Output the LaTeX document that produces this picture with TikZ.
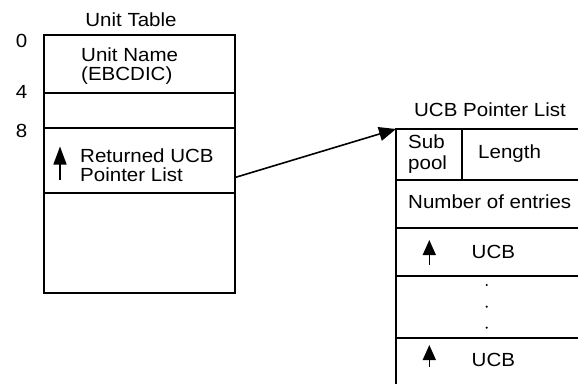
\documentclass[tikz,border=0pt]{standalone}
\usepackage{fontspec}
\setmainfont{Liberation Sans}[FakeStretch=1.08]
\usetikzlibrary{arrows.meta,calc}

\begin{document}
\begin{tikzpicture}[x=1pt, y=-1pt,
    font=\fontsize{19}{19}\selectfont,
    field/.style={draw, line width=1.2pt, rectangle, inner sep=0pt,
      outer sep=0pt, anchor=north west},
    txt/.style={inner sep=0pt, anchor=base west},
    title/.style={inner sep=0pt, anchor=base},
    ptr/.style={line width=1.4pt, -{Triangle[length=15pt,width=13pt]}},
    link/.style={line width=1.6pt, -{Triangle[length=17pt,width=14pt]}}]
  \clip (0,0) rectangle (578,383);
  % unit table
  \node[title] (uttitle) at (131,26) {Unit Table};
  \node[field, minimum width=191pt, minimum height=58pt] (uname) at (44,35) {};
  \node[field, minimum width=191pt, minimum height=35pt] (resv) at (44,93) {};
  \node[field, minimum width=191pt, minimum height=65pt] (retptr) at (44,128) {};
  \node[field, minimum width=191pt, minimum height=100pt] (spare) at (44,193) {};
  \node[title] (off0) at (21.5,47) {0};
  \node[title] (off4) at (21.5,98) {4};
  \node[title] (off8) at (21.5,137) {8};
  \node[txt] (unameA) at (81,61) {Unit Name};
  \node[txt] (unameB) at (81,80) {(EBCDIC)};
  \node[txt] (retptrA) at (80,162) {Returned UCB};
  \node[txt] (retptrB) at (80,181) {Pointer List};
  \draw[ptr, -{Triangle[length=18pt,width=13pt]}] (60,180) -- (60,146.5);

  % ucb pointer list
  \node[title] (pltitle) at (490,116.7) {UCB Pointer List};
  \node[field, minimum width=66pt, minimum height=51pt] (subpool) at (396,129) {};
  \node[field, minimum width=190pt, minimum height=51pt] (length) at (462,129) {};
  \node[field, minimum width=256pt, minimum height=48pt] (nument) at (396,180) {};
  \node[field, minimum width=256pt, minimum height=48pt] (ucbfirst) at (396,228) {};
  \node[field, minimum width=256pt, minimum height=62pt] (gap) at (396,276) {};
  \node[field, minimum width=256pt, minimum height=80pt] (ucblast) at (396,338) {};
  \node[txt] (subA) at (408,148.3) {Sub};
  \node[txt] (subB) at (408,169.5) {pool};
  \node[txt] (lentxt) at (478,158.3) {Length};
  \node[txt] (numtxt) at (408,208.3) {Number of entries};
  \node[txt] (ucbtxta) at (471.5,258.3) {UCB};
  \node[txt] (ucbtxtb) at (471.5,366.7) {UCB};
  \draw[ptr] (429.3,265) -- (429.3,240);
  \draw[ptr] (429.3,366.7) -- (429.3,345);
  \foreach \y in {285,306.7,327.7}
    \fill (486.7,\y) circle (1.2pt);

  \draw[link] ($(retptr.east)+(0,17)$) -- (subpool.north west);
\end{tikzpicture}
\end{document}
